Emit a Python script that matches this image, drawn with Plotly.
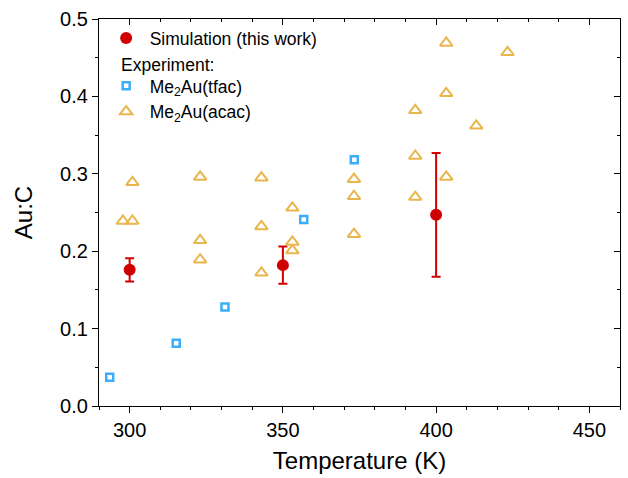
import plotly.graph_objects as go

# Simulation (this work)
sim_T = [300, 350, 400]
sim_R = [0.176, 0.182, 0.247]
sim_err = [0.015, 0.024, 0.080]

# Experiment: Me2Au(tfac)
tfac_T = [293.5, 315.2, 331.1, 356.8, 373.3]
tfac_R = [0.037, 0.081, 0.128, 0.241, 0.318]

# Experiment: Me2Au(acac)
acac_T = [297.8, 300.9, 300.9, 323, 323, 323, 343, 343, 343, 353.1, 353.1, 353.1,
          373.2, 373.2, 373.2, 393.2, 393.2, 393.2, 403.3, 403.3, 403.3, 413.1, 423.3]
acac_R = [0.239, 0.239, 0.289, 0.296, 0.214, 0.189, 0.295, 0.232, 0.172, 0.256, 0.212, 0.201,
          0.293, 0.271, 0.222, 0.382, 0.323, 0.270, 0.469, 0.404, 0.296, 0.362, 0.457]

RED = "#D00000"
BLUE = "#3AAEF8"
GOLD = "#E9B64C"
FONT = "Liberation Sans, Arial, sans-serif"

fig = go.Figure()
fig.add_trace(go.Scatter(
    x=sim_T, y=sim_R, mode="markers", name="Simulation (this work)",
    marker=dict(symbol="circle", size=12, color=RED),
    error_y=dict(type="data", array=sim_err, color=RED, thickness=2, width=4.5),
    legendgroup="sim"))
fig.add_trace(go.Scatter(
    x=tfac_T, y=tfac_R, mode="markers", name="Me<sub>2</sub>Au(tfac)",
    marker=dict(symbol="square-open", size=7, color=BLUE, line=dict(width=2.5, color=BLUE)),
    legendgroup="exp"))
fig.add_trace(go.Scatter(
    x=acac_T, y=acac_R, mode="markers", name="Me<sub>2</sub>Au(acac)",
    marker=dict(symbol="triangle-up-open", size=11, color=GOLD, line=dict(width=2, color=GOLD)),
    legendgroup="exp"))
# empty trace so the mirrored top/right axes get drawn
fig.add_trace(go.Scatter(x=[None], y=[None], xaxis="x2", yaxis="y2",
                         showlegend=False, hoverinfo="skip"))

xr = [290, 460]
yr = [0, 0.5]
axis_common = dict(showline=True, linecolor="black", linewidth=1.2, showgrid=False,
                   zeroline=False, tickcolor="black", tickwidth=1.2)

fig.update_layout(
    width=628, height=478,
    margin=dict(l=99, r=8, t=13, b=72),
    paper_bgcolor="white", plot_bgcolor="white",
    font=dict(family=FONT, color="black"),
    xaxis=dict(range=xr, dtick=50, tick0=300, ticks="outside", ticklen=6,
               minor=dict(ticks="outside", ticklen=3, dtick=10, tickcolor="black"),
               tickfont=dict(size=20),
               title=dict(text="Temperature (K)", font=dict(size=24), standoff=12),
               **axis_common),
    yaxis=dict(range=yr, dtick=0.1, ticks="outside", ticklen=6, tickformat=".1f",
               minor=dict(ticks="outside", ticklen=3, dtick=0.05, tickcolor="black"),
               tickfont=dict(size=20),
               title=dict(text="Au:C", font=dict(size=24), standoff=20),
               **axis_common),
    xaxis2=dict(range=xr, dtick=50, tick0=300, ticks="inside", ticklen=6, overlaying="x",
                side="top", anchor="y", showticklabels=False,
                minor=dict(ticks="inside", ticklen=3, dtick=10, tickcolor="black"),
                **axis_common),
    yaxis2=dict(range=yr, dtick=0.1, ticks="inside", ticklen=6, overlaying="y",
                side="right", anchor="x", showticklabels=False,
                minor=dict(ticks="inside", ticklen=3, dtick=0.05, tickcolor="black"),
                **axis_common),
    legend=dict(x=0.007, y=0.997, xanchor="left", yanchor="top",
                bgcolor="rgba(0,0,0,0)", font=dict(size=17.5), itemwidth=37,
                traceorder="grouped", tracegroupgap=22),
    annotations=[dict(text="Experiment:", xref="paper", yref="paper",
                      x=(119 - 99) / 521, y=(406 - 60) / 393, xanchor="left", yanchor="middle",
                      showarrow=False, font=dict(size=17.5))],
)

fig.write_html("out.html")
